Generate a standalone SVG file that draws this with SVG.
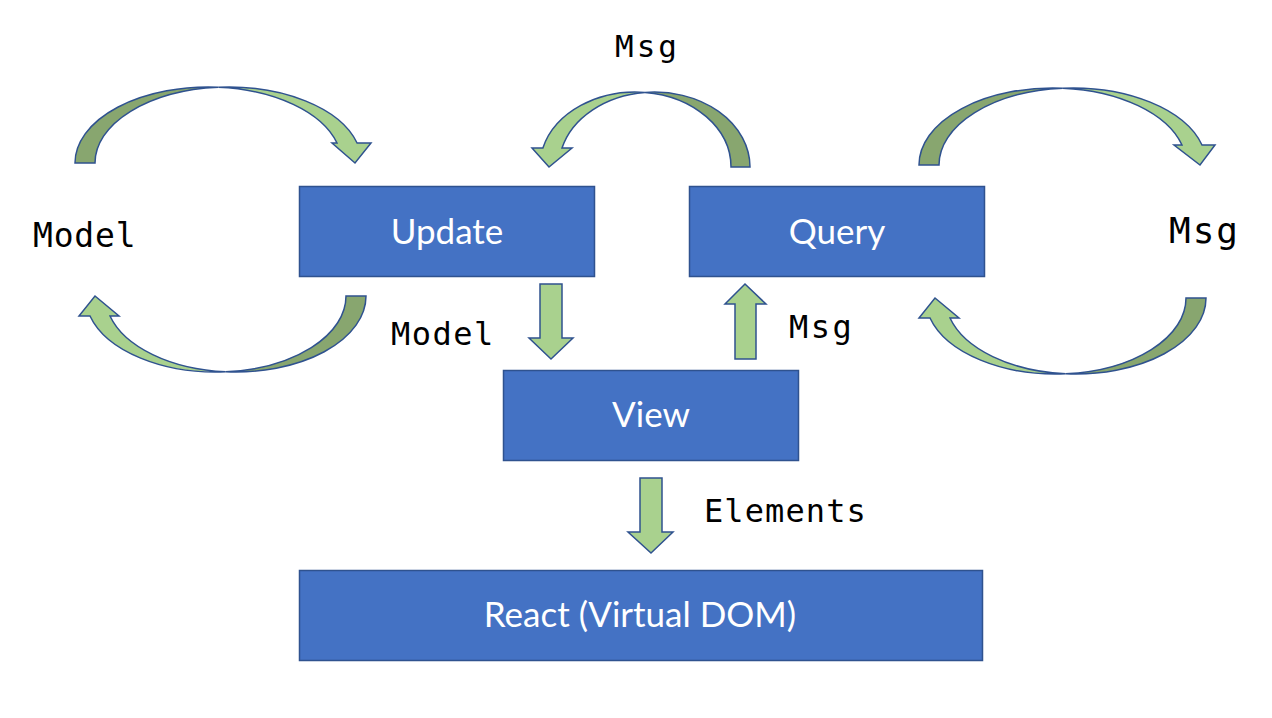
<svg xmlns="http://www.w3.org/2000/svg" width="1272" height="718" viewBox="0 0 1272 718">
  <style>
    .box { fill: #4472C4; stroke: #2F528F; stroke-width: 1.5; }
    .box-label { font-family: Lato, "Open Sans", sans-serif; font-size: 35px; fill: #FFFFFF; text-anchor: middle; }
    .code { font-family: "DejaVu Sans Mono", "Liberation Mono", monospace; fill: #000000; }
    .light { fill: #A9D18E; stroke: #2F528F; stroke-width: 1.5; stroke-linejoin: miter; }
    .dark { fill: #88A66F; stroke: #2F528F; stroke-width: 1.5; stroke-linejoin: miter; }
  </style>

  <rect width="1272" height="718" fill="#FFFFFF"/>

  <!-- connectors: curved loop arrows and straight block arrows -->
  <g id="connectors">
    <!-- Model loop, top left (into Update) -->
    <g id="loop-model-top">
      <path class="dark" d="M75,163 A133.4,76 0 0 1 218.4,87.2 A133.4,76 0 0 0 95,163 Z"/>
      <path class="light" d="M218.4,87.2 A133.4,76 0 0 1 357.1,143 L371,143 L355,163 L332,143 L337,143 A133.4,76 0 0 0 218.4,87.2 Z"/>
    </g>
    <!-- Model loop, bottom left (out of Update) -->
    <g id="loop-model-bottom">
      <path class="dark" d="M366,296 A130.3,76 0 0 1 225.7,371.8 A130.3,76 0 0 0 346,296 Z"/>
      <path class="light" d="M225.7,371.8 A130.3,76 0 0 1 90,316 L79,316 L95,296 L119,316 L110,316 A130.3,76 0 0 0 225.7,371.8 Z"/>
    </g>
    <!-- Msg from Query to Update -->
    <g id="loop-msg-middle">
      <path class="dark" d="M750,167 A95.6,75 0 0 0 644.9,92.4 A95.6,75 0 0 1 731,167 Z"/>
      <path class="light" d="M644.9,92.4 A95.6,75 0 0 0 542.9,148 L532,148 L549,167 L572,148 L562,148 A95.6,75 0 0 1 644.9,92.4 Z"/>
    </g>
    <!-- Msg loop, top right (out of Query) -->
    <g id="loop-msg-top">
      <path class="dark" d="M919,165 A133.8,77 0 0 1 1062.8,88.2 A133.8,77 0 0 0 939,165 Z"/>
      <path class="light" d="M1062.8,88.2 A133.8,77 0 0 1 1202,145 L1215,145 L1200,165 L1174,145 L1182,145 A133.8,77 0 0 0 1062.8,88.2 Z"/>
    </g>
    <!-- Msg loop, bottom right (into Query) -->
    <g id="loop-msg-bottom">
      <path class="dark" d="M1206,298 A130.3,76 0 0 1 1065.7,373.8 A130.3,76 0 0 0 1186,298 Z"/>
      <path class="light" d="M1065.7,373.8 A130.3,76 0 0 1 930,318 L919,318 L935,298 L959,318 L950,318 A130.3,76 0 0 0 1065.7,373.8 Z"/>
    </g>
    <!-- Update to View -->
    <path id="arrow-update-view" class="light" d="M540,284 L562,284 L562,338 L573,338 L551,359 L529,338 L540,338 Z"/>
    <!-- View to Query -->
    <path id="arrow-view-query" class="light" d="M745,284 L766,304 L756,304 L756,359 L735,359 L735,304 L725,304 Z"/>
    <!-- View to React -->
    <path id="arrow-view-react" class="light" d="M640,478 L662,478 L662,532 L673,532 L651,553 L628,532 L640,532 Z"/>
  </g>

  <!-- connector labels -->
  <g id="labels">
    <text class="code" x="615" y="57" font-size="31" letter-spacing="3">Msg</text>
    <text class="code" x="33" y="247" font-size="33" letter-spacing="0.8">Model</text>
    <text class="code" x="1169" y="243" font-size="36" letter-spacing="2">Msg</text>
    <text class="code" x="391" y="345" font-size="32" letter-spacing="1.5">Model</text>
    <text class="code" x="789" y="338" font-size="32" letter-spacing="2.5">Msg</text>
    <text class="code" x="704" y="522" font-size="32" letter-spacing="1.1">Elements</text>
  </g>

  <g id="node-update">
    <rect class="box" x="299.5" y="186.5" width="295" height="90"/>
    <text class="box-label" x="447" y="244">Update</text>
  </g>
  <g id="node-query">
    <rect class="box" x="689.5" y="186.5" width="295" height="90"/>
    <text class="box-label" x="837" y="244">Query</text>
  </g>
  <g id="node-view">
    <rect class="box" x="503.5" y="370.5" width="295" height="90"/>
    <text class="box-label" x="651" y="427">View</text>
  </g>
  <g id="node-react">
    <rect class="box" x="299.5" y="570.5" width="683" height="90"/>
    <text class="box-label" x="640" y="627">React (Virtual DOM)</text>
  </g>
</svg>
